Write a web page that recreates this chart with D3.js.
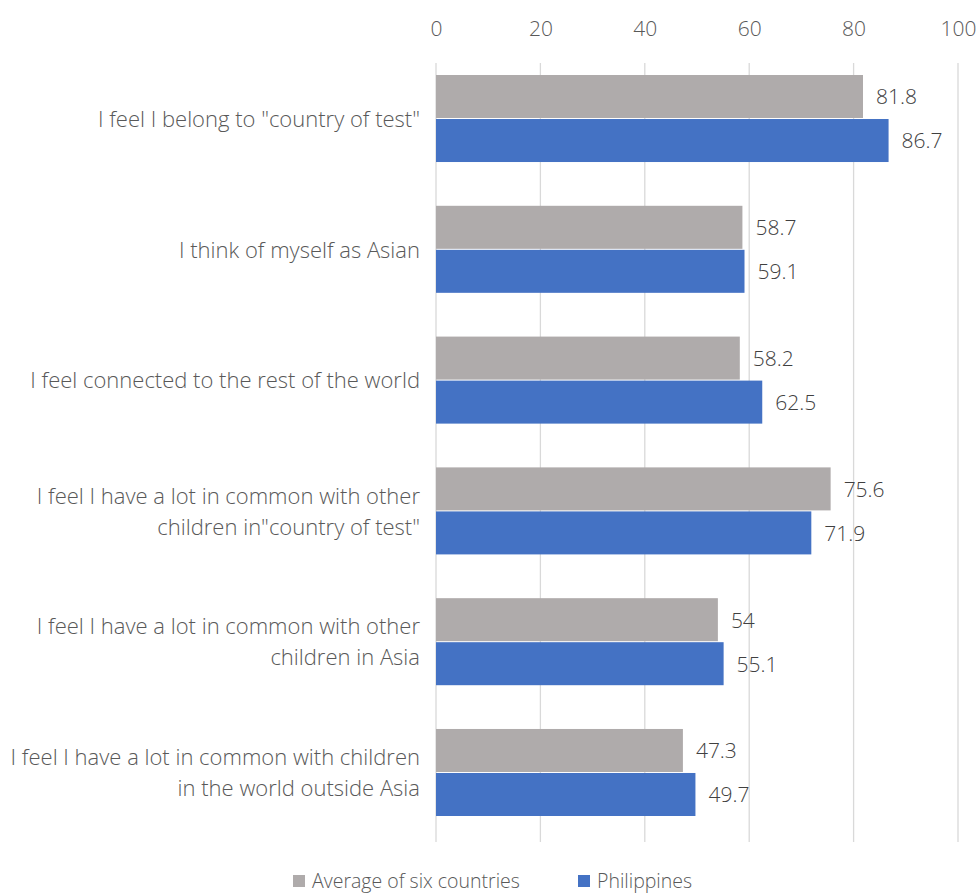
<!DOCTYPE html>
<html><head><meta charset="utf-8">
<script src="https://cdn.jsdelivr.net/npm/d3@7"></script>
<style>
body{margin:0;background:#fff;}
text{font-family:"Open Sans","Segoe UI",sans-serif;font-weight:300;}
</style></head>
<body>
<svg id="chart" width="978" height="896"></svg>
<script>
const categories = [
  ["I feel I belong to \"country of test\""],
  ["I think of myself as Asian"],
  ["I feel connected to the rest of the world"],
  ["I feel I have a lot in common with other", "children in\"country of test\""],
  ["I feel I have a lot in common with other", "children in Asia"],
  ["I feel I have a lot in common with children", "in the world outside Asia"]
];
const seriesNames = ["Average of six countries", "Philippines"];
const averageValues = [81.8, 58.7, 58.2, 75.6, 54, 47.3];
const philippinesValues = [86.7, 59.1, 62.5, 71.9, 55.1, 49.7];
const tickValues = [0, 20, 40, 60, 80, 100];
const colors = ["#AFABAB", "#4472C4"];

(function(){
const svg = d3.select("#chart");
const mLeft = 436, mRight = 958;
const x = d3.scaleLinear().domain([0, 100]).range([mLeft, mRight]);
const y = d3.scaleBand().domain(d3.range(categories.length)).range([75, 817]).paddingInner(0.327).paddingOuter(0);
const sub = d3.scaleBand().domain([0, 1]).range([0, y.bandwidth()]);

svg.append("g").selectAll("line").data(tickValues).join("line")
  .attr("x1", d => x(d)).attr("x2", d => x(d))
  .attr("y1", 63).attr("y2", 842)
  .attr("stroke", "#d9d9d9").attr("stroke-width", 1.3);

const axis = d3.axisTop(x).tickValues(tickValues).tickSize(0).tickPadding(0);
const ag = svg.append("g").attr("transform", "translate(0,36)").call(axis);
ag.select(".domain").remove();
ag.selectAll("text").attr("font-size", 21).attr("fill", "#595959")
  .style("font-family", "'Open Sans', sans-serif").style("font-weight", 300);

const series = [averageValues, philippinesValues];
series.forEach((vals, si) => {
  svg.append("g").selectAll("rect").data(vals).join("rect")
    .attr("x", x(0))
    .attr("y", (d, i) => y(i) + sub(si))
    .attr("width", d => x(d) - x(0))
    .attr("height", sub.bandwidth() - 1)
    .attr("fill", colors[si]);
  svg.append("g").selectAll("text").data(vals).join("text")
    .attr("x", d => x(d) + 13)
    .attr("y", (d, i) => y(i) + sub(si) + sub.bandwidth() / 2)
    .attr("dy", "0.35em")
    .attr("font-size", 21).attr("fill", "#404040")
    .text(d => d);
});

const cg = svg.append("g");
categories.forEach((lines, i) => {
  const cy = y(i) + y.bandwidth() / 2;
  const lh = 31;
  const t = cg.append("text").attr("text-anchor", "end").attr("font-size", 22).attr("fill", "#595959");
  lines.forEach((ln, j) => {
    t.append("tspan").attr("x", 420)
      .attr("y", cy + (j - (lines.length - 1) / 2) * lh)
      .attr("dy", "0.35em").text(ln);
  });
});

const lg = svg.append("g");
const legendX = [293, 578];
seriesNames.forEach((n, i) => {
  lg.append("rect").attr("x", legendX[i]).attr("y", 875).attr("width", 12).attr("height", 12).attr("fill", colors[i]);
  lg.append("text").attr("x", legendX[i] + 19).attr("y", 881).attr("dy", "0.35em")
    .attr("font-size", 19.5).attr("fill", "#595959").text(n);
});
})();
</script>
</body></html>
